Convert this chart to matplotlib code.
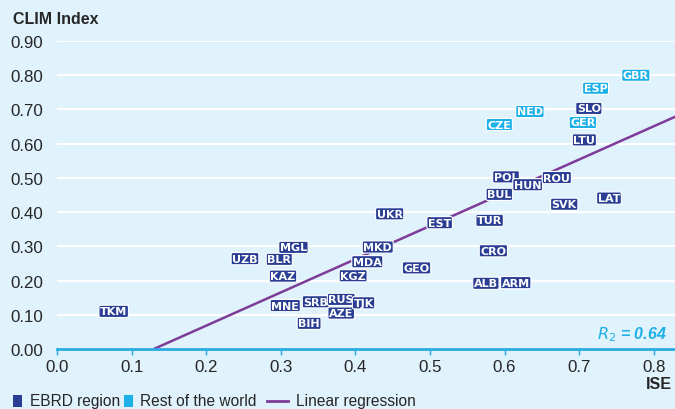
import matplotlib
matplotlib.use("Agg")
import matplotlib.pyplot as plt
import numpy as np

# ---- data ----
ebrd_codes = ["TKM", "UZB", "BLR", "MGL", "KAZ", "MNE", "SRB", "BIH", "RUS", "AZE",
              "TJK", "KGZ", "MDA", "MKD", "UKR", "EST", "GEO", "TUR", "CRO", "ALB",
              "ARM", "BUL", "POL", "HUN", "ROU", "SVK", "LAT", "LTU", "SLO"]
ebrd_ise = [0.076, 0.252, 0.298, 0.317, 0.303, 0.306, 0.347, 0.338, 0.381, 0.381,
            0.411, 0.397, 0.416, 0.430, 0.446, 0.513, 0.482, 0.580, 0.585, 0.575,
            0.615, 0.593, 0.602, 0.631, 0.670, 0.680, 0.740, 0.707, 0.713]
ebrd_clim = [0.110, 0.264, 0.262, 0.297, 0.213, 0.127, 0.138, 0.075, 0.145, 0.105,
             0.135, 0.214, 0.255, 0.298, 0.395, 0.369, 0.237, 0.376, 0.287, 0.192,
             0.194, 0.452, 0.503, 0.480, 0.501, 0.423, 0.441, 0.611, 0.703]

row_codes = ["CZE", "NED", "GER", "ESP", "GBR"]
row_ise = [0.593, 0.634, 0.705, 0.722, 0.776]
row_clim = [0.656, 0.694, 0.662, 0.762, 0.800]

reg_slope = 0.971
reg_intercept = -0.126
reg_x = [0.13, 0.83]
r2_text = "0.64"

xticks = [0.0, 0.1, 0.2, 0.3, 0.4, 0.5, 0.6, 0.7, 0.8]
yticks = [0.0, 0.1, 0.2, 0.3, 0.4, 0.5, 0.6, 0.7, 0.8, 0.9]

# ---- style ----
BG = "#e0f2fc"
DARK = "#2a3f94"
CYAN = "#1eb0e8"
PURPLE = "#7d3c98"
AXIS = "#27aae1"
TXT = "#262626"

plt.rcParams['font.family'] = ['Liberation Sans', 'DejaVu Sans']

fig = plt.figure(figsize=(6.75, 4.1), dpi=100, facecolor=BG)
ax = fig.add_axes([57/675, 1-350/410, 1-57/675, (350-42)/410])
ax.set_facecolor(BG)
ax.set_xlim(0, 0.8285)
ax.set_ylim(0, 0.9)

for s in ["top", "right", "left"]:
    ax.spines[s].set_visible(False)
ax.spines["bottom"].set_color(AXIS)
ax.spines["bottom"].set_linewidth(2)
ax.spines["bottom"].set_zorder(5)

ax.set_yticks(yticks)
ax.set_yticklabels([f"{v:.2f}" for v in yticks])
ax.set_xticks(xticks)
ax.set_xticklabels([f"{v:.1f}" for v in xticks])
ax.tick_params(axis="y", length=0, pad=10, labelsize=12.2, labelcolor=TXT)
ax.tick_params(axis="x", length=4, width=1, color=AXIS, direction="out", pad=3,
               labelsize=12.2, labelcolor=TXT)
ax.grid(axis="y", color="white", linewidth=1.5)
ax.set_axisbelow(True)

# regression line
rx = np.array(reg_x)
ax.plot(rx, reg_slope * rx + reg_intercept, color=PURPLE, linewidth=1.8, zorder=2,
        solid_capstyle="butt", clip_on=True)

label_font = dict(family=['Liberation Sans Narrow', 'DejaVu Sans'], fontsize=8,
                  fontweight="bold", color="white", ha="center", va="center", zorder=4)

def put(codes, xs, ys, col):
    for c, x, y in zip(codes, xs, ys):
        ax.text(x, y, c, bbox=dict(boxstyle="round,pad=0.1,rounding_size=0.15",
                                   facecolor=col, edgecolor="white", linewidth=0.8),
                **label_font)

put(ebrd_codes, ebrd_ise, ebrd_clim, DARK)
put(row_codes, row_ise, row_clim, CYAN)

ax.text(0.8175, 0.045, r"$\mathbf{\mathit{R_2}}$" + " = " + r2_text, color=CYAN,
        fontsize=11.5, fontweight="bold", fontstyle="italic", ha="right", va="center")

fig.text(13/675, 1-20/410, "CLIM Index", fontsize=11.5, fontweight="bold",
         color=TXT, ha="left", va="center")
fig.text(672/675, 1-385/410, "ISE", fontsize=11.5, fontweight="bold",
         color=TXT, ha="right", va="center")

# legend
ly = 1-402/410
fig.patches.append(plt.Rectangle((13/675, ly-6/410), 9/675, 12/410, transform=fig.transFigure,
                                 facecolor=DARK, edgecolor="none"))
fig.text(30/675, ly, "EBRD region", fontsize=11.2, color=TXT, ha="left", va="center")
fig.patches.append(plt.Rectangle((124/675, ly-6/410), 9/675, 12/410, transform=fig.transFigure,
                                 facecolor=CYAN, edgecolor="none"))
fig.text(140/675, ly, "Rest of the world", fontsize=11.2, color=TXT, ha="left", va="center")
fig.lines.append(plt.Line2D([267/675, 288/675], [ly, ly], transform=fig.transFigure,
                            color=PURPLE, linewidth=2))
fig.text(296/675, ly, "Linear regression", fontsize=11.2, color=TXT, ha="left", va="center")

fig.savefig("out.png", dpi=100, facecolor=BG)
